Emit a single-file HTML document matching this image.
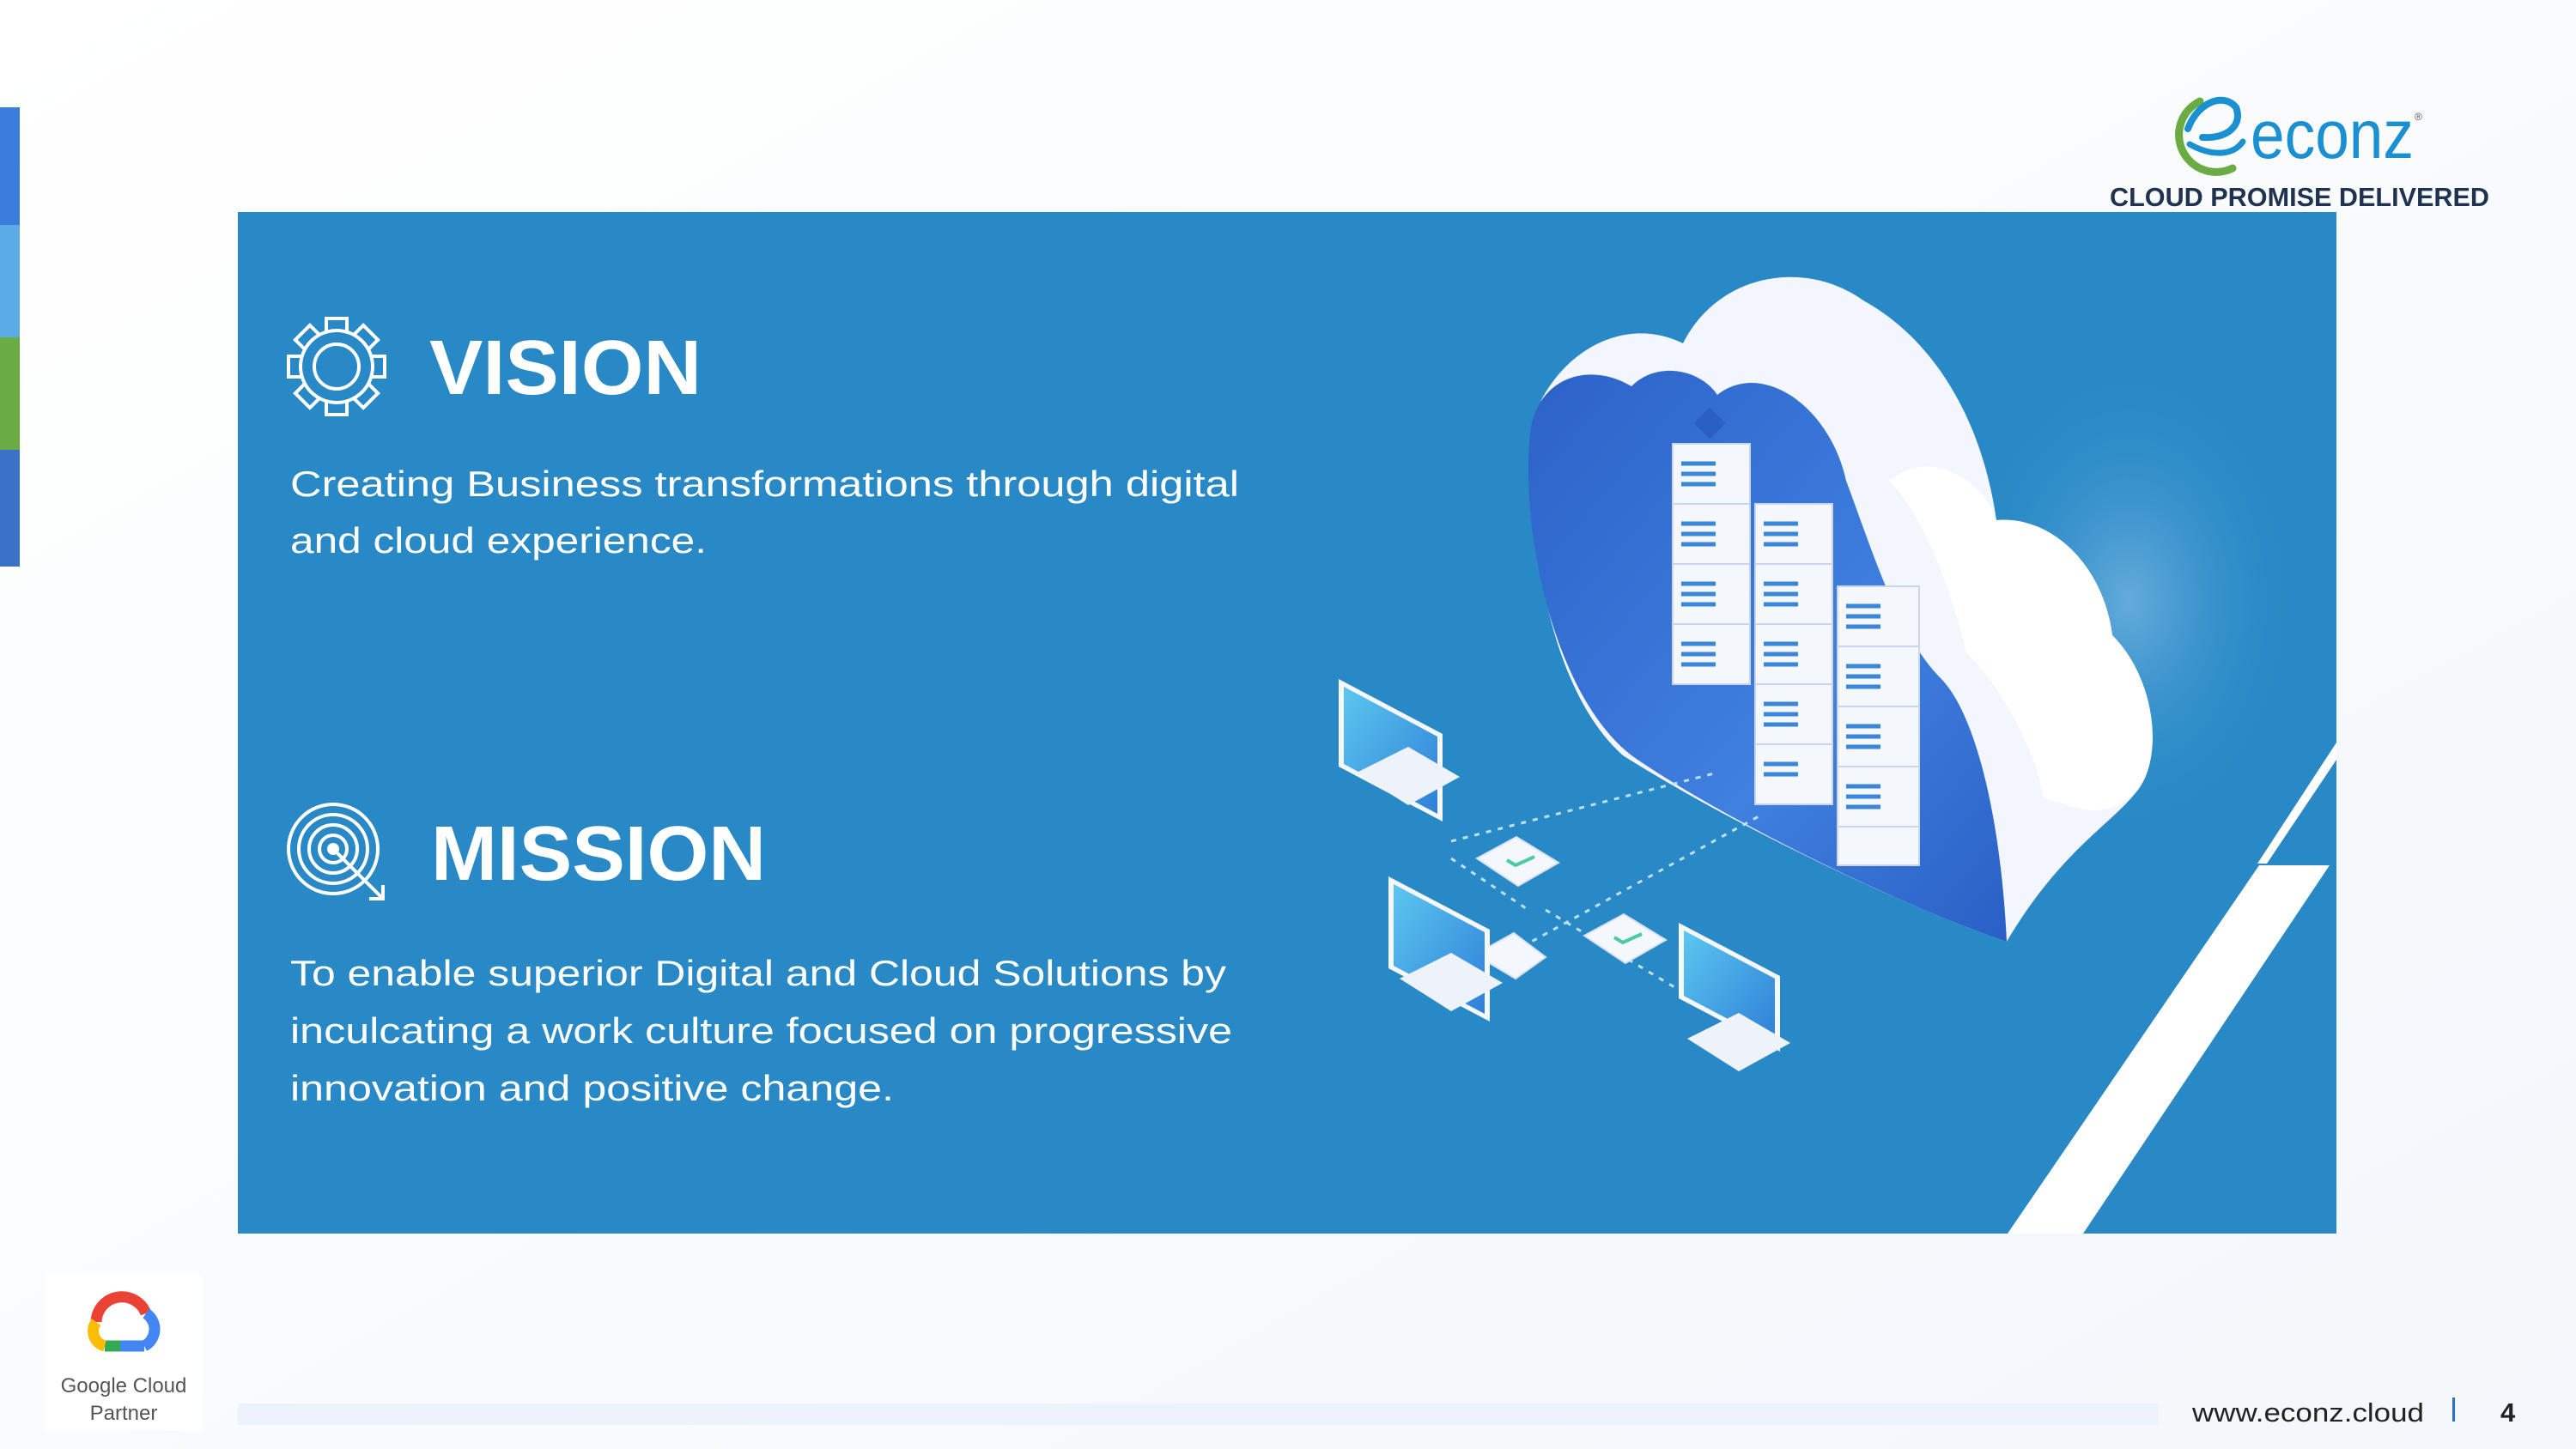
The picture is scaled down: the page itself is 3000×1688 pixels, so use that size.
<!DOCTYPE html>
<html><head><meta charset="utf-8"><style>
html,body{margin:0;padding:0;width:3000px;height:1688px;overflow:hidden;background:#fff}
svg{display:block}
text{font-family:"Liberation Sans",sans-serif}
</style></head><body>
<svg width="3000" height="1688" viewBox="0 0 3000 1688" xmlns="http://www.w3.org/2000/svg">
<defs>
<linearGradient id="bg" x1="0" y1="0" x2="1" y2="1"><stop offset="0" stop-color="#ffffff"/><stop offset="1" stop-color="#f3f7fb"/></linearGradient>
<linearGradient id="inner" x1="0" y1="0" x2="1" y2="1"><stop offset="0" stop-color="#2d62c8"/><stop offset="0.6" stop-color="#3f80e0"/><stop offset="1" stop-color="#2a5fc4"/></linearGradient>
<linearGradient id="scr" x1="0" y1="0" x2="1" y2="1"><stop offset="0" stop-color="#5cc7ef"/><stop offset="1" stop-color="#2f7fd8"/></linearGradient>
<radialGradient id="glow" cx="0.5" cy="0.5" r="0.5"><stop offset="0" stop-color="#8fc3ea" stop-opacity="0.6"/><stop offset="1" stop-color="#2889c6" stop-opacity="0"/></radialGradient>
</defs>
<rect width="3000" height="1688" fill="url(#bg)"/>
<!-- left bar -->
<rect x="0" y="125" width="23" height="137" fill="#3b7ddd"/>
<rect x="0" y="262" width="23" height="131" fill="#5aaae5"/>
<rect x="0" y="393" width="23" height="131" fill="#6aab44"/>
<rect x="0" y="524" width="23" height="136" fill="#3a72c8"/>

<!-- panel -->
<rect x="277" y="247" width="2444" height="1190" fill="#2889c6"/>
<polygon points="2721,865 2721,885 2640,1006 2629,1006" fill="#fff"/>
<polygon points="2631,1008 2713,1008 2426,1437 2338,1437" fill="#fff"/>

<!-- gear icon -->
<g stroke="#fff" stroke-width="4" fill="#2889c6">
<g transform="translate(392,427)">
<rect x="-12" y="-56" width="24" height="20" transform="rotate(0)"/>
<rect x="-12" y="-56" width="24" height="20" transform="rotate(45)"/>
<rect x="-12" y="-56" width="24" height="20" transform="rotate(90)"/>
<rect x="-12" y="-56" width="24" height="20" transform="rotate(135)"/>
<rect x="-12" y="-56" width="24" height="20" transform="rotate(180)"/>
<rect x="-12" y="-56" width="24" height="20" transform="rotate(225)"/>
<rect x="-12" y="-56" width="24" height="20" transform="rotate(270)"/>
<rect x="-12" y="-56" width="24" height="20" transform="rotate(315)"/>
<circle r="42"/>
<circle r="26"/>
</g>
</g>
<!-- target icon -->
<g stroke="#fff" stroke-width="4" fill="none" transform="translate(388,989)">
<circle r="52"/><circle r="40"/><circle r="28"/><circle r="16"/><circle r="5" fill="#fff"/>
<line x1="0" y1="0" x2="56" y2="56"/>
<polyline points="42,58 58,58 58,42"/>
</g>

<text x="500" y="459" font-size="90" font-weight="bold" fill="#fff" textLength="317" lengthAdjust="spacingAndGlyphs">VISION</text>
<text x="502" y="1025" font-size="90" font-weight="bold" fill="#fff" textLength="390" lengthAdjust="spacingAndGlyphs">MISSION</text>
<g font-size="42" fill="#fff">
<text x="338" y="578" textLength="1105" lengthAdjust="spacingAndGlyphs">Creating Business transformations through digital</text>
<text x="338" y="644" textLength="485" lengthAdjust="spacingAndGlyphs">and cloud experience.</text>
<text x="338" y="1148" textLength="1090" lengthAdjust="spacingAndGlyphs">To enable superior Digital and Cloud Solutions by</text>
<text x="338" y="1215" textLength="1097" lengthAdjust="spacingAndGlyphs">inculcating a work culture focused on progressive</text>
<text x="338" y="1282" textLength="703" lengthAdjust="spacingAndGlyphs">innovation and positive change.</text>
</g>

<!-- illustration -->
<ellipse cx="2480" cy="700" rx="200" ry="280" fill="url(#glow)"/>
<path d="M1795,466 C1830,400 1900,370 1960,400 C2000,320 2100,300 2170,350 C2260,400 2310,500 2325,606 C2390,600 2450,660 2460,740 C2510,790 2520,880 2490,920 C2460,960 2400,990 2337,1097 C2200,1050 2000,950 1890,880 C1800,800 1770,600 1795,466 Z" fill="#f3f6fc"/>
<path d="M1782,504 C1790,440 1850,420 1900,450 C1930,420 1980,430 2000,460 C2050,420 2130,470 2150,560 C2180,640 2210,740 2260,790 C2300,830 2330,950 2337,1097 C2200,1050 2000,950 1900,880 C1810,810 1770,620 1782,504 Z" fill="url(#inner)"/>
<g fill="#f4f7fc" stroke="#c9d6ea" stroke-width="2">
<rect x="1948" y="517" width="90" height="70"/><rect x="1948" y="587" width="90" height="70"/><rect x="1948" y="657" width="90" height="70"/><rect x="1948" y="727" width="90" height="70"/>
<rect x="2044" y="587" width="90" height="70"/><rect x="2044" y="657" width="90" height="70"/><rect x="2044" y="727" width="90" height="70"/><rect x="2044" y="797" width="90" height="70"/><rect x="2044" y="867" width="90" height="70"/>
<rect x="2140" y="683" width="95" height="70"/><rect x="2140" y="753" width="95" height="70"/><rect x="2140" y="823" width="95" height="70"/><rect x="2140" y="893" width="95" height="70"/><rect x="2140" y="963" width="95" height="45"/>
</g>
<g stroke="#3a86d8" stroke-width="5">
<path d="M1958,540h40M1958,552h40M1958,564h40M1958,610h40M1958,622h40M1958,634h40M1958,680h40M1958,692h40M1958,704h40M1958,750h40M1958,762h40M1958,774h40"/>
<path d="M2054,610h40M2054,622h40M2054,634h40M2054,680h40M2054,692h40M2054,704h40M2054,750h40M2054,762h40M2054,774h40M2054,820h40M2054,832h40M2054,844h40M2054,890h40M2054,902h40"/>
<path d="M2150,706h40M2150,718h40M2150,730h40M2150,776h40M2150,788h40M2150,800h40M2150,846h40M2150,858h40M2150,870h40M2150,916h40M2150,928h40M2150,940h40"/>
</g>
<rect x="1978" y="480" width="26" height="26" fill="#2a5fc4" transform="rotate(45 1991 493)"/>
<path d="M2200,560 C2250,520 2310,560 2325,606 C2390,600 2450,660 2460,740 C2510,790 2520,880 2490,920 C2450,960 2420,940 2380,930 C2370,870 2330,800 2290,760 C2270,680 2240,600 2200,560 Z" fill="#ffffff"/>
<g stroke="#bfe0f5" stroke-width="3" stroke-dasharray="6 8" fill="none">
<path d="M1690,980 L2000,900"/><path d="M1760,1110 L2050,950"/><path d="M1800,1060 L2000,1180"/><path d="M1690,1000 L1780,1060"/>
</g>
<g fill="#f4f7fc" stroke="#d9e4f2" stroke-width="2">
<polygon points="1720,1000 1766,975 1815,1005 1768,1032"/>
<polygon points="1845,1090 1891,1065 1940,1095 1893,1122"/>
<polygon points="1718,1112 1763,1087 1800,1115 1765,1140"/>
</g>
<g stroke="#4cc9a6" stroke-width="4" fill="none"><path d="M1755,1002 l10,6 l22,-10"/><path d="M1880,1092 l10,6 l22,-10"/></g>
<g>
<polygon points="1559,791 1680,855 1680,957 1559,893" fill="#f4f7fc"/>
<polygon points="1565,800 1674,858 1674,948 1565,890" fill="url(#scr)"/>
<polygon points="1580,900 1640,870 1700,905 1640,938" fill="#eef3fa"/>
<polygon points="1617,1021 1735,1083 1735,1190 1617,1128" fill="#f4f7fc"/>
<polygon points="1623,1030 1729,1086 1729,1181 1623,1125" fill="url(#scr)"/>
<polygon points="1630,1140 1690,1110 1750,1145 1690,1178" fill="#eef3fa"/>
<polygon points="1955,1075 2073,1137 2073,1225 1955,1163" fill="#f4f7fc"/>
<polygon points="1961,1084 2067,1140 2067,1216 1961,1160" fill="url(#scr)"/>
<polygon points="1965,1210 2025,1180 2085,1215 2025,1248" fill="#eef3fa"/>
</g>

<!-- econz logo -->
<g fill="none" stroke-linecap="round">
<path d="M2562,118 A40,40 0 1 0 2600,196" stroke="#6aab44" stroke-width="9"/>
<path d="M2548,150 C2560,118 2590,108 2604,125 C2612,145 2595,162 2565,160" stroke="#1a8fd1" stroke-width="8"/>
<path d="M2550,168 C2575,182 2600,182 2612,165" stroke="#1a8fd1" stroke-width="7"/>
</g>
<text x="2621" y="184" font-size="80" fill="#1a8fd1" textLength="190" lengthAdjust="spacingAndGlyphs">econz</text>
<text x="2812" y="140" font-size="12" fill="#555">®</text>
<text x="2457" y="240" font-size="31" font-weight="bold" fill="#1f3350" textLength="442" lengthAdjust="spacingAndGlyphs">CLOUD PROMISE DELIVERED</text>

<!-- footer -->
<rect x="277" y="1635" width="2237" height="25" fill="#ecf3fd"/>
<text x="2553" y="1656" font-size="31" fill="#222" textLength="270" lengthAdjust="spacingAndGlyphs">www.econz.cloud</text>
<rect x="2856" y="1628" width="3" height="28" fill="#2a6fc9"/>
<text x="2912" y="1656" font-size="31" font-weight="bold" fill="#222">4</text>

<!-- google cloud partner -->
<rect x="52" y="1483" width="183" height="184" fill="#fff"/>
<g fill="none" stroke-width="13">
<path d="M112,1540 A30,30 0 0 1 170,1530" stroke="#ea4335"/>
<path d="M170,1530 A22,22 0 0 1 168,1568" stroke="#4285f4"/>
<path d="M168,1568 L140,1568" stroke="#4285f4"/>
<path d="M140,1568 L122,1568" stroke="#34a853"/>
<path d="M122,1568 A18,18 0 0 1 112,1540" stroke="#fbbc04"/>
</g>
<text x="144" y="1622" font-size="24" fill="#555" text-anchor="middle">Google Cloud</text>
<text x="144" y="1654" font-size="24" fill="#555" text-anchor="middle">Partner</text>
</svg>
</body></html>
